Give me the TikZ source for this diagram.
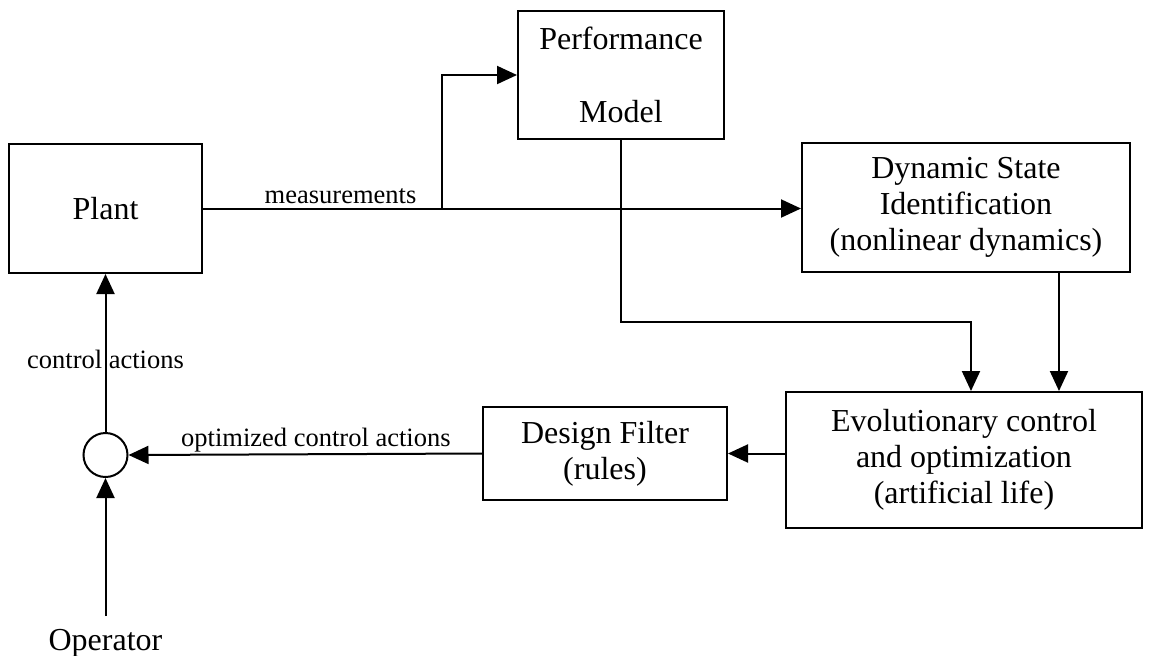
\documentclass[tikz,border=0pt]{standalone}
\usepackage{fontspec}
\setmainfont{Liberation Serif}
\usetikzlibrary{arrows.meta,positioning}

\begin{document}
\begin{tikzpicture}[x=0.5pt,y=0.5pt,line width=1pt,
    font=\fontsize{16}{18}\selectfont,
    blk/.style={draw,align=center,inner sep=0pt},
    lbl/.style={font=\fontsize{13.25}{15}\selectfont},
    sumpt/.style={draw,circle,minimum size=22pt,inner sep=0pt},
    >={Triangle[length=10pt,width=9pt]}]
  \useasboundingbox (0,0) rectangle (1153,-655);
  \node[blk,minimum width=96.5pt,minimum height=64.5pt] (plant) at (105.5,-208.5) {Plant};
  \node[blk,minimum width=103pt,minimum height=64pt] (pm) at (621,-75) {Performance\\[18.5pt]Model};
  \node[blk,minimum width=164pt,minimum height=64.5pt] (dsi) at (966,-207.5)
    {Dynamic State\\Identification\\(nonlinear dynamics)};
  \node[blk,minimum width=178pt,minimum height=68pt] (evo) at (964,-460)
    {Evolutionary control\\and optimization\\(artificial life)};
  \node[blk,minimum width=122pt,minimum height=46.5pt] (df) at (605,-453.5) {Design Filter\\(rules)};
  \node[sumpt,below=79pt of plant] (sum) {};
  \node[below=69pt of sum,inner ysep=6pt] (op) {Operator};
  \coordinate (pmin) at ([xshift=3.5pt]evo.north);
  \coordinate (dsiin) at ([xshift=47.5pt]evo.north);
  \draw[->] (plant.east) -- coordinate[pos=0.4] (tap) (plant.east -| dsi.west)
    node[lbl,pos=0.23,above=-1.5pt]{measurements};
  \draw[->] (tap) |- (pm.west);
  \draw[->] (pm.south) -- ++(0,-182) -| (pmin);
  \draw[->] (dsiin |- dsi.south) -- (dsiin);
  \draw[->] (evo.west |- df.east) -- (df.east);
  \draw[->] (df.west) -- (sum.east) node[lbl,pos=0.47,above=-3pt]{optimized control actions};
  \draw[->] (sum.north) -- (plant.south) node[lbl,pos=0.46]{control actions};
  \draw[->] (op.north) -- (sum.south);
\end{tikzpicture}
\end{document}
